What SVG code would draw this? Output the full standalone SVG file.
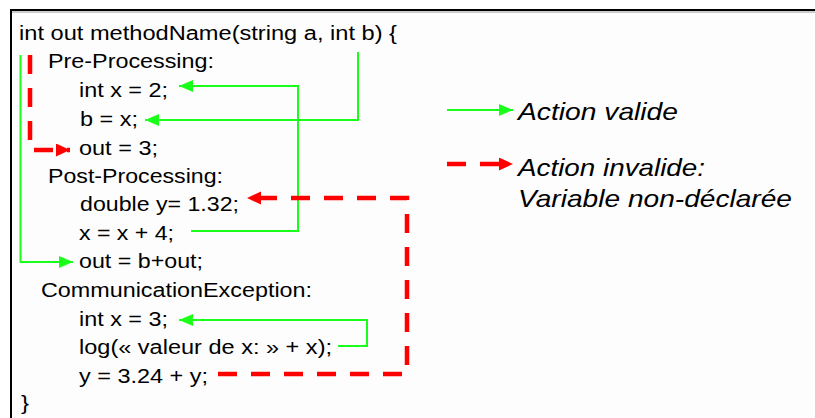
<svg xmlns="http://www.w3.org/2000/svg" width="815" height="418" viewBox="0 0 815 418">
<style>
.code{font-family:"Liberation Sans",Arial,sans-serif;font-size:20px;fill:#000}
.leg{font-family:"Liberation Sans",Arial,sans-serif;font-size:24px;font-style:italic;fill:#000}
.ok{fill:none;stroke:#1aff1a;stroke-width:2}
.bad{fill:none;stroke:#ff0000;stroke-width:4.5;stroke-dasharray:19 14}
</style>
<defs>
<marker id="ag" markerUnits="userSpaceOnUse" markerWidth="16" markerHeight="14" refX="14" refY="6" orient="auto">
<path d="M0,0 L14,6 L0,12 Z" fill="#1aff1a"/>
</marker>
<marker id="ar" markerUnits="userSpaceOnUse" markerWidth="16" markerHeight="15" refX="14" refY="6.5" orient="auto">
<path d="M0,0 L14,6.5 L0,13 Z" fill="#ff0000"/>
</marker>
</defs>
<rect x="0" y="0" width="815" height="418" fill="#ffffff"/>
<g id="frame">
<rect x="11" y="10" width="900" height="500" fill="#fdfdfd" stroke="#000" stroke-width="2"/>
<line x1="12" y1="12" x2="815" y2="12" stroke="#9a9a9a" stroke-width="1"/>
</g>
<g id="code">
<g id="l1"><text class="code" x="19" y="40" textLength="378" lengthAdjust="spacingAndGlyphs">int out methodName(string a, int b) {</text></g>
<g id="pre"><text class="code" x="48" y="68" textLength="166" lengthAdjust="spacingAndGlyphs">Pre-Processing:</text></g>
<g id="l3"><text class="code" x="79" y="97" textLength="89" lengthAdjust="spacingAndGlyphs">int x = 2;</text></g>
<g id="l4"><text class="code" x="80" y="126" textLength="58" lengthAdjust="spacingAndGlyphs">b = x;</text></g>
<g id="l5"><text class="code" x="79" y="155" textLength="79" lengthAdjust="spacingAndGlyphs">out = 3;</text></g>
<g id="post"><text class="code" x="48" y="183" textLength="175" lengthAdjust="spacingAndGlyphs">Post-Processing:</text></g>
<g id="l7"><text class="code" x="80" y="211" textLength="159" lengthAdjust="spacingAndGlyphs">double y= 1.32;</text></g>
<g id="l8"><text class="code" x="79" y="240" textLength="95" lengthAdjust="spacingAndGlyphs">x = x + 4;</text></g>
<g id="l9"><text class="code" x="79" y="268" textLength="124" lengthAdjust="spacingAndGlyphs">out = b+out;</text></g>
<g id="exc"><text class="code" x="41" y="297" textLength="271" lengthAdjust="spacingAndGlyphs">CommunicationException:</text></g>
<g id="l11"><text class="code" x="79" y="326" textLength="89" lengthAdjust="spacingAndGlyphs">int x = 3;</text></g>
<g id="l12"><text class="code" x="79" y="354" textLength="253" lengthAdjust="spacingAndGlyphs">log(« valeur de x: » + x);</text></g>
<g id="l13"><text class="code" x="79" y="383" textLength="129" lengthAdjust="spacingAndGlyphs">y = 3.24 + y;</text></g>
<g id="l14"><text class="code" x="21" y="410" textLength="8" lengthAdjust="spacingAndGlyphs">}</text></g>
</g>
<g id="legend">
<g id="leg-valid"><text class="leg" x="518" y="120" textLength="160" lengthAdjust="spacingAndGlyphs">Action valide</text></g>
<g id="leg-invalid">
<text class="leg" x="518" y="176" textLength="187" lengthAdjust="spacingAndGlyphs">Action invalide:</text>
<text class="leg" x="518" y="207" textLength="274" lengthAdjust="spacingAndGlyphs">Variable non-déclarée</text>
</g>
</g>
<g id="connectors">
<path class="ok" d="M358,52 V120 H145" marker-end="url(#ag)"/>
<path class="ok" d="M191,231 H298 V86 H179" marker-end="url(#ag)"/>
<path class="ok" d="M20.5,55 V262 H73" marker-end="url(#ag)"/>
<path class="ok" d="M338,346 H367 V320 H179" marker-end="url(#ag)"/>
<path class="bad" d="M30,55 V150 H70" marker-end="url(#ar)"/>
<path class="bad" d="M218,374 H407 V198 H247" marker-end="url(#ar)"/>
<path class="ok" d="M447,110 H513" marker-end="url(#ag)"/>
<path class="bad" d="M447,164 H513" marker-end="url(#ar)"/>
</g>
</svg>
